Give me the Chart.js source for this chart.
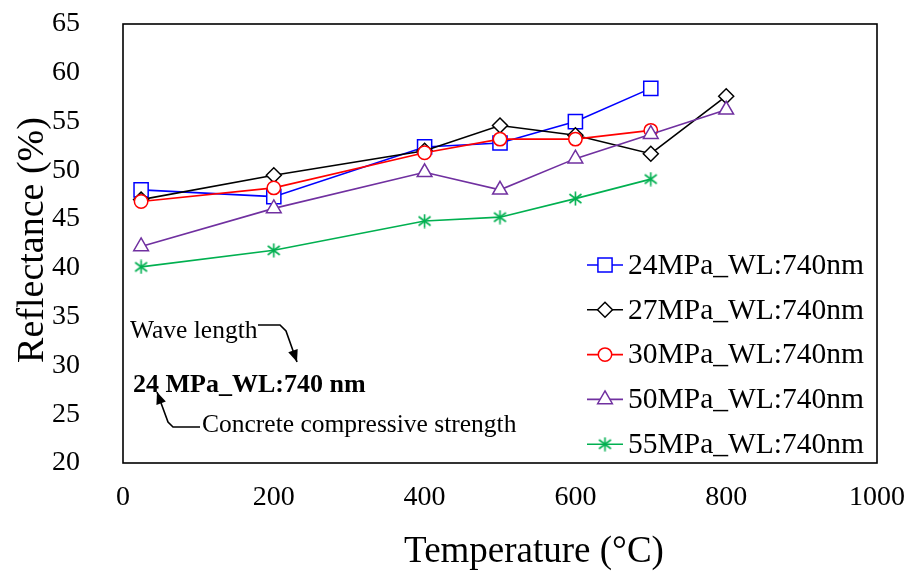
<!DOCTYPE html>
<html>
<head>
<meta charset="utf-8">
<script src="https://cdn.jsdelivr.net/npm/chart.js@4/dist/chart.umd.min.js"></script>
<style>
  body { margin: 0; background: #fff; }
  canvas { display: block; }
</style>
</head>
<body>
<canvas id="reflectChart" width="909" height="576"></canvas>
<script>
// --- DATOS ---
const temps24 = [24, 200, 400, 500, 600, 700];
const refl24  = [48.0, 47.3, 52.4, 52.8, 55.0, 58.4];
const temps27 = [24, 200, 400, 500, 600, 700, 800];
const refl27  = [47.0, 49.5, 52.0, 54.6, 53.6, 51.7, 57.6];
const temps30 = [24, 200, 400, 500, 600, 700];
const refl30  = [46.8, 48.2, 51.8, 53.2, 53.2, 54.1];
const temps50 = [24, 200, 400, 500, 600, 700, 800];
const refl50  = [42.2, 46.1, 49.8, 48.0, 51.2, 53.7, 56.2];
const temps55 = [24, 200, 400, 500, 600, 700];
const refl55  = [40.1, 41.8, 44.8, 45.2, 47.1, 49.1];

const seriesNames = ['24MPa_WL:740nm', '27MPa_WL:740nm', '30MPa_WL:740nm', '50MPa_WL:740nm', '55MPa_WL:740nm'];
const xTicks = [0, 200, 400, 600, 800, 1000];
const yTicks = [20, 25, 30, 35, 40, 45, 50, 55, 60, 65];

const FONT = '"Liberation Serif", "Times New Roman", serif';

// marcador estrella estilo Excel (X + linea vertical)
function makeStar(color) {
    const c = document.createElement('canvas');
    c.width = 15; c.height = 15;
    const g = c.getContext('2d');
    g.strokeStyle = color; g.lineWidth = 1.6;
    g.beginPath();
    g.moveTo(7.5, 0.5); g.lineTo(7.5, 14.5);
    g.moveTo(1.5, 3); g.lineTo(13.5, 12);
    g.moveTo(13.5, 3); g.lineTo(1.5, 12);
    g.stroke();
    return c;
}

function toPoints(xs, ys) {
    return xs.map((x, i) => ({ x: x, y: ys[i] }));
}

function serie(idx, xs, ys, color, style, radius) {
    return {
        label: seriesNames[idx],
        data: toPoints(xs, ys),
        borderColor: color,
        backgroundColor: '#ffffff',
        pointBackgroundColor: '#ffffff',
        pointBorderColor: color,
        pointStyle: style,
        pointRadius: radius,
        pointHoverRadius: radius,
        pointBorderWidth: 1.5,
        borderWidth: 1.6,
        tension: 0,
        fill: false,
        order: 5 - idx
    };
}

const datasets = [
    serie(0, temps24, refl24, '#0000ff', 'rect', 10),
    serie(1, temps27, refl27, '#000000', 'rectRot', 7.5),
    serie(2, temps30, refl30, '#ff0000', 'circle', 6.7),
    serie(3, temps50, refl50, '#7030a0', 'triangle', 8.5),
    serie(4, temps55, refl55, '#00b050', makeStar('#00b050'), 7.5)
];

// --- FLECHAS ---
function flecha(ctx, pts) {
    ctx.beginPath();
    ctx.moveTo(pts[0][0], pts[0][1]);
    for (let i = 1; i < pts.length; i++) ctx.lineTo(pts[i][0], pts[i][1]);
    ctx.stroke();
    const [x1, y1] = pts[pts.length - 2];
    const [x2, y2] = pts[pts.length - 1];
    const ang = Math.atan2(y2 - y1, x2 - x1);
    const len = 12, half = 5;
    ctx.beginPath();
    ctx.moveTo(x2, y2);
    ctx.lineTo(x2 - len * Math.cos(ang) + half * Math.sin(ang), y2 - len * Math.sin(ang) - half * Math.cos(ang));
    ctx.lineTo(x2 - len * Math.cos(ang) - half * Math.sin(ang), y2 - len * Math.sin(ang) + half * Math.cos(ang));
    ctx.closePath();
    ctx.fill();
}

function marcador(ctx, ds, x, y) {
    const opts = { pointStyle: ds.pointStyle, rotation: 0, radius: ds.pointRadius, borderWidth: ds.pointBorderWidth };
    ctx.fillStyle = ds.pointBackgroundColor;
    ctx.strokeStyle = ds.pointBorderColor;
    ctx.lineWidth = ds.pointBorderWidth;
    if (Chart.helpers && Chart.helpers.drawPoint) {
        Chart.helpers.drawPoint(ctx, opts, x, y);
    } else if (ds.pointStyle instanceof HTMLCanvasElement) {
        ctx.drawImage(ds.pointStyle, x - ds.pointStyle.width / 2, y - ds.pointStyle.height / 2);
    } else {
        ctx.beginPath(); ctx.arc(x, y, ds.pointRadius, 0, Math.PI * 2); ctx.fill(); ctx.stroke();
    }
}

const extrasPlugin = {
    id: 'extras',
    afterDraw(chart) {
        const ctx = chart.ctx;
        const a = chart.chartArea;
        ctx.save();

        // marco del area de trazado
        ctx.strokeStyle = '#000'; ctx.lineWidth = 1.6;
        ctx.strokeRect(a.left, a.top, a.right - a.left, a.bottom - a.top);

        // titulos de ejes
        ctx.fillStyle = '#000';
        ctx.textAlign = 'center';
        ctx.textBaseline = 'alphabetic';
        ctx.font = '37px ' + FONT;
        ctx.fillText('Temperature (°C)', 534, 562);
        ctx.save();
        ctx.font = '38px ' + FONT;
        ctx.translate(43, 240);
        ctx.rotate(-Math.PI / 2);
        ctx.fillText('Reflectance (%)', 0, 0);
        ctx.restore();

        // leyenda
        ctx.font = '29.5px ' + FONT;
        ctx.textAlign = 'left';
        ctx.textBaseline = 'middle';
        chart.data.datasets.forEach((ds, i) => {
            const y = 265 + i * 44.8;
            ctx.strokeStyle = ds.borderColor; ctx.lineWidth = ds.borderWidth;
            ctx.beginPath(); ctx.moveTo(587, y); ctx.lineTo(623, y); ctx.stroke();
            marcador(ctx, ds, 605, y);
            ctx.fillStyle = '#000';
            ctx.fillText(ds.label, 628, y + 1);
        });

        // anotacion
        ctx.fillStyle = '#000'; ctx.strokeStyle = '#000'; ctx.lineWidth = 1.6;
        ctx.textBaseline = 'alphabetic';
        ctx.font = '25.5px ' + FONT;
        ctx.fillText('Wave length', 130, 338);
        ctx.fillText('Concrete compressive strength', 202, 432);
        ctx.font = 'bold 26px ' + FONT;
        ctx.fillText('24 MPa_WL:740 nm', 133, 392);
        flecha(ctx, [[258, 325], [280, 325], [286, 331], [297, 362]]);
        flecha(ctx, [[200, 427], [173, 427], [168, 422], [157, 392]]);

        ctx.restore();
    }
};

new Chart(document.getElementById('reflectChart'), {
    type: 'line',
    data: { datasets: datasets },
    options: {
        responsive: false,
        animation: false,
        devicePixelRatio: 1,
        layout: { padding: { left: 0, top: 24, right: 32, bottom: 0 } },
        plugins: { legend: { display: false }, tooltip: { enabled: false } },
        scales: {
            x: {
                type: 'linear', min: 0, max: 1000,
                grid: { display: false, drawTicks: false },
                border: { display: false },
                afterBuildTicks: s => { s.ticks = xTicks.map(v => ({ value: v })); },
                ticks: { color: '#000', font: { family: FONT, size: 28 }, padding: 18, maxRotation: 0,
                         callback: v => String(v) },
                afterFit: s => { s.height = 113; s.paddingLeft = 0; s.paddingRight = 0; }
            },
            y: {
                min: 20, max: 65,
                grid: { display: false, drawTicks: false },
                border: { display: false },
                afterBuildTicks: s => { s.ticks = yTicks.map(v => ({ value: v })); },
                ticks: { color: '#000', font: { family: FONT, size: 28 }, padding: 43,
                         callback: v => String(v) },
                afterFit: s => { s.width = 123; s.paddingTop = 0; s.paddingBottom = 0; }
            }
        }
    },
    plugins: [extrasPlugin]
});
</script>
</body>
</html>
